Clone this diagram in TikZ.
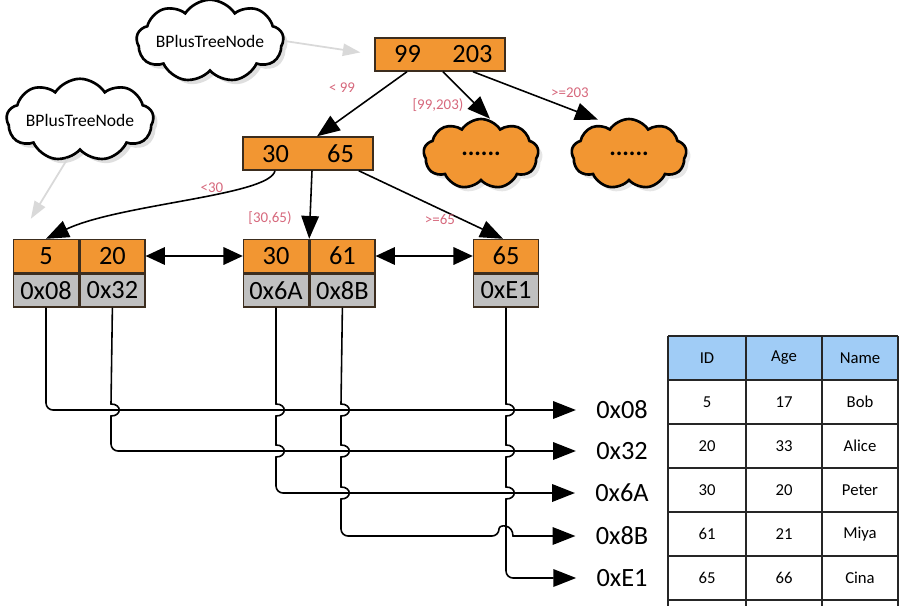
\documentclass[tikz,border=0pt]{standalone}
\usepackage{fontspec}
\setmainfont{Carlito}
\usetikzlibrary{arrows.meta, positioning, shapes.symbols, shadows, calc}
\definecolor{keyorange}{RGB}{242,150,50}
\definecolor{ptrgray}{RGB}{192,192,192}
\definecolor{cellborder}{RGB}{60,45,30}
\definecolor{rangered}{RGB}{214,104,124}
\definecolor{headblue}{RGB}{160,204,246}
% vertical line hopping to the right over a horizontal one at (x,y)
\newcommand{\hop}[2]{-- (#1,#2-6) .. controls (#1+11,#2-6) and (#1+11,#2+6) .. (#1,#2+6)}

\begin{document}
\begin{tikzpicture}[
        x=0.02cm, y=-0.02cm,
        >={Triangle[length=13pt,width=10pt]},
        cell/.style={draw=cellborder, line width=0.8pt, minimum width=1.3cm, minimum height=0.66cm, inner sep=0pt, font=\fontsize{15}{18}\selectfont},
        keycell/.style={cell, fill=keyorange},
        ptrcell/.style={cell, fill=ptrgray},
        innerbox/.style={keycell, minimum width=2.6cm},
        typecloud/.style={cloud, cloud puffs=9, cloud puff arc=115, cloud ignores aspect, draw, line width=1.5pt, fill=white, inner sep=0pt, minimum width=2.35cm, minimum height=1.65cm, font=\fontsize{10}{12}\selectfont, drop shadow={opacity=0.25}},
        morecloud/.style={cloud, cloud puffs=9, cloud puff arc=115, cloud ignores aspect, draw, line width=1.5pt, fill=keyorange, inner sep=0pt, minimum width=2.3cm, minimum height=1.4cm, font=\fontsize{14}{16}\selectfont\bfseries, drop shadow={opacity=0.2}},
        treeedge/.style={->, line width=0.9pt},
        rangelbl/.style={text=rangered, font=\fontsize{8.5}{10}\selectfont},
        hint/.style={->, >={Triangle[length=10pt,width=7pt]}, line width=1pt, black!15},
        ptr/.style={->, line width=0.9pt},
        addr/.style={font=\fontsize{15}{18}\selectfont, inner xsep=0.4cm},
        tcell/.style={font=\fontsize{9.5}{11}\selectfont}
    ]
    \useasboundingbox (0,0) rectangle (904,606);

    % --- Inner nodes ---
    \node[innerbox] (root) at (440,54.5) {\makebox[1.3cm]{99}\makebox[1.3cm]{203}};
    \node[innerbox] (mid) at (308,153.5) {\makebox[1.3cm]{30}\makebox[1.3cm]{65}};
    \node[morecloud] (moreA) at (481,154) {......};
    \node[morecloud] (moreB) at (629,154) {......};

    % --- Type clouds ---
    \node[typecloud] (tc1) at (210,41) {BPlusTreeNode};
    \node[typecloud] (tc2) at (80,120) {BPlusTreeNode};

    % --- Leaf nodes ---
    \node[keycell] (k5) at (46,256) {5};
    \node[keycell, right=0pt of k5] (k20) {20};
    \node[ptrcell, below=0pt of k5] (p08) {0x08};
    \node[ptrcell, below=0pt of k20] (p32) {0x32};

    \node[keycell] (k30) at (276,256) {30};
    \node[keycell, right=0pt of k30] (k61) {61};
    \node[ptrcell, below=0pt of k30] (p6A) {0x6A};
    \node[ptrcell, below=0pt of k61] (p8B) {0x8B};

    \node[keycell] (k65) at (506,256) {65};
    \node[ptrcell, below=0pt of k65] (pE1) {0xE1};

    % --- Tree edges ---
    \draw[treeedge] ($(root.south)+(-33,0)$) -- ($(mid.north)+(9,0)$);
    \draw[treeedge] ($(root.south)+(3,0)$) -- ($(moreA.north)+(9,1)$);
    \draw[treeedge] ($(root.south)+(33,0)$) -- ($(moreB.north)+(-31,2)$);
    \node[rangelbl] (l99) at (342,88) {< 99};
    \node[rangelbl] (l99203) at (438,105) {[99,203)};
    \node[rangelbl] (l203) at (570,93) {>=203};

    \draw[treeedge] ($(mid.south)+(-33,0)$) .. controls +(-5,25) and +(74,-35) .. (k5.north);
    \draw[treeedge] ($(mid.south)+(4,0)$) -- (k30.north east);
    \draw[treeedge] ($(mid.south east)+(-15,0)$) -- ($(k65.north)+(-3,0)$);
    \node[rangelbl] (l30) at (212,188) {<30};
    \node[rangelbl] (l3065) at (270,218) {[30,65)};
    \node[rangelbl] (l65) at (440,220) {>=65};

    % --- Sibling links ---
    \draw[<->, line width=0.9pt, >={Triangle[length=11pt,width=10pt]}] (k20.east) -- (k30.west);
    \draw[<->, line width=0.9pt, >={Triangle[length=11pt,width=10pt]}] (k61.east) -- (k65.west);

    % --- Type hints ---
    \draw[hint, shorten >=8pt] (tc1.east) -- (root.west);
    \draw[hint, shorten <=5pt] ($(tc2.south)+(-8,0)$) -- ($(k5.north west)+(18,-20)$);

    % --- Row addresses ---
    \node[addr] (a08) at (622,410) {0x08};
    \node[addr] (a32) at (622,451) {0x32};
    \node[addr] (a6A) at (622,493) {0x6A};
    \node[addr] (a8B) at (622,536) {0x8B};
    \node[addr] (aE1) at (622,578) {0xE1};

    \draw[ptr, rounded corners=4pt] (p08.south) |- (a08.west);
    \draw[ptr] (p32.south) \hop{111}{410} [rounded corners=4pt] |- (a32.west);
    \draw[ptr] (p6A.south) \hop{276}{410} \hop{276}{451} [rounded corners=4pt] |- (a6A.west);
    \draw[ptr] (p8B.south) \hop{341}{410} \hop{341}{451} \hop{341}{493} [rounded corners=4pt] |- (499,536) [sharp corners] .. controls (499,524) and (513,524) .. (513,536) -- (a8B.west);
    \draw[ptr] (pE1.south) \hop{506}{410} \hop{506}{451} \hop{506}{493} [rounded corners=4pt] |- (aE1.west);

    % --- Table ---
    \fill[headblue] (668,336) rectangle (898,380);
    \foreach \t/\x in {ID/707, Age/784, Name/860}
        \node[tcell] (h\t) at (\x,358) {\t};
    \foreach \id/\age/\nm [count=\r] in {5/17/Bob, 20/33/Alice, 30/20/Peter, 61/21/Miya, 65/66/Cina} {
        \node[tcell] (id\r) at (707,{358+44*\r}) {\id};
        \node[tcell] (age\r) at (784,{358+44*\r}) {\age};
        \node[tcell] (nm\r) at (860,{358+44*\r}) {\nm};
    }
    \foreach \y in {336,380,424,468,512,556,600}
        \draw[line width=1.3pt, black!85] (668,\y) -- (898,\y);
    \foreach \x in {668,746,822,898}
        \draw[line width=1.3pt, black!85] (\x,336) -- (\x,606);
\end{tikzpicture}
\end{document}
